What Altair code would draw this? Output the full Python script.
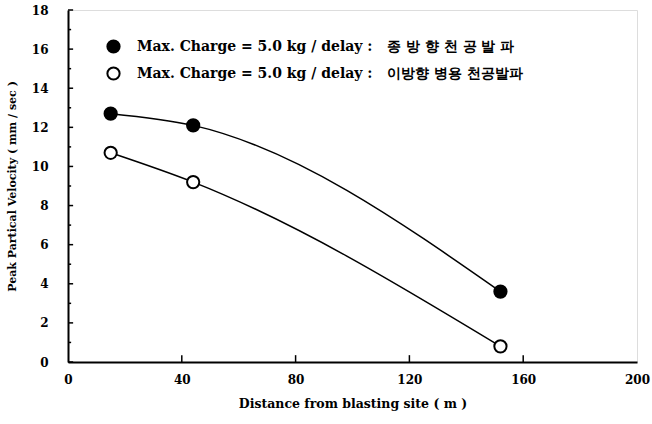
import altair as alt
import pandas as pd

# ---- data ----
distance = [15, 44, 152]
ppv_single = [12.7, 12.1, 3.6]
ppv_dual = [10.7, 9.2, 0.8]
series_names = [
    "Max. Charge = 5.0 kg / delay :\u00a0\u00a0\u00a0종 방 향 천 공 발 파",
    "Max. Charge = 5.0 kg / delay :\u00a0\u00a0\u00a0이방향 병용 천공발파",
]
x_ticks = [0, 40, 80, 120, 160, 200]
y_ticks = [0, 2, 4, 6, 8, 10, 12, 14, 16, 18]
y_minor = list(range(0, 19))
x_minor = [40, 80, 120, 160]

rows = []
for d, a, b in zip(distance, ppv_single, ppv_dual):
    rows.append({"dist": d, "ppv": a, "series": series_names[0]})
    rows.append({"dist": d, "ppv": b, "series": series_names[1]})
df = pd.DataFrame(rows)

FONT = "DejaVu Serif"

xs = alt.Scale(domain=[0, 200], nice=False)
ys = alt.Scale(domain=[0, 18], nice=False)

x_axis = alt.Axis(values=x_ticks, ticks=False, grid=False, title="Distance from blasting site ( m )",
                  labelPadding=12, titlePadding=12, domainColor="black", domainWidth=2,
                  labelOverlap=False, labelFlush=False,
                  labelFont=FONT, labelFontWeight="bold", labelFontSize=12, labelColor="black",
                  titleFont=FONT, titleFontWeight="bold", titleFontSize=12.5, titleColor="black")
y_axis = alt.Axis(values=y_ticks, ticks=False, grid=False,
                  title="Peak Partical Velocity ( mm / sec )",
                  labelPadding=20, titlePadding=14, domainColor="black", domainWidth=2,
                  labelOverlap=False, labelFlush=False,
                  labelFont=FONT, labelFontWeight="bold", labelFontSize=12, labelColor="black",
                  titleFont=FONT, titleFontWeight="bold", titleFontSize=11, titleColor="black")

lines = alt.Chart(df).mark_line(interpolate="monotone", color="black", strokeWidth=1.5).encode(
    x=alt.X("dist:Q", scale=xs, axis=x_axis),
    y=alt.Y("ppv:Q", scale=ys, axis=y_axis),
    detail="series:N",
)

points = alt.Chart(df).mark_point(filled=True, size=150, stroke="black", strokeWidth=2, opacity=1).encode(
    x=alt.X("dist:Q", scale=xs, axis=None),
    y=alt.Y("ppv:Q", scale=ys, axis=None),
    fill=alt.Fill(
        "series:N",
        scale=alt.Scale(domain=series_names, range=["black", "white"]),
        legend=alt.Legend(
            title=None, orient="none", legendX=38, legendY=29, symbolType="circle",
            symbolSize=150, symbolStrokeColor="black", symbolStrokeWidth=2,
            labelFont=FONT, labelFontWeight="bold", labelFontSize=14, labelColor="black",
            rowPadding=6, labelOffset=16, labelLimit=600,
        ),
    ),
)

ydf = pd.DataFrame({"ppv": y_minor, "dist": [0.0] * len(y_minor),
                    "len": [1.8 if v % 2 == 0 else 1.1 for v in y_minor]})
yticks = alt.Chart(ydf).mark_rule(color="black", strokeWidth=1.5).encode(
    y=alt.Y("ppv:Q", scale=ys, axis=None),
    x=alt.X("dist:Q", scale=xs, axis=None),
    x2="len:Q",
)
xdf = pd.DataFrame({"dist": x_minor, "ppv": [0.0] * len(x_minor), "len": [0.35] * len(x_minor)})
xticks = alt.Chart(xdf).mark_rule(color="black", strokeWidth=1.5).encode(
    x=alt.X("dist:Q", scale=xs, axis=None),
    y=alt.Y("ppv:Q", scale=ys, axis=None),
    y2="len:Q",
)

chart = (
    alt.layer(lines, yticks, xticks, points)
    .resolve_axis(x="independent", y="independent")
    .properties(
        width=569, height=352,
        autosize=alt.AutoSizeParams(type="none"),
        padding={"left": 68, "top": 10, "right": 15, "bottom": 62},
    )
    .configure_view(stroke="black", strokeWidth=2)
    .configure(background="white")
)

chart.save("out.html", embed_options={"renderer": "svg", "actions": False})
